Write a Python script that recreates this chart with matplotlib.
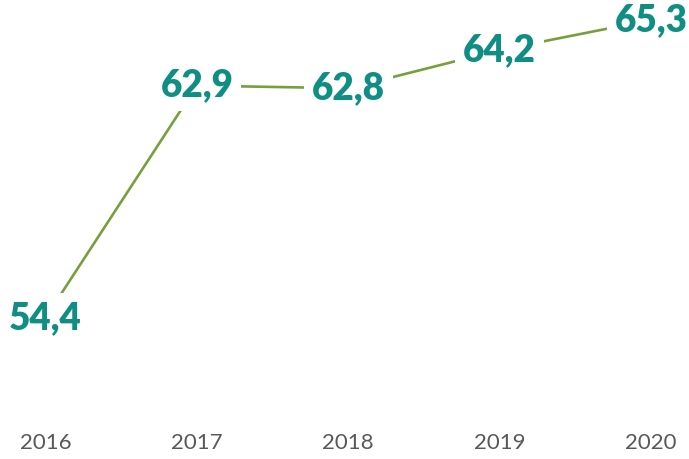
import matplotlib
matplotlib.use("Agg")
import matplotlib.pyplot as plt

years = ["2016", "2017", "2018", "2019", "2020"]
values = [54.4, 62.9, 62.8, 64.2, 65.3]
labels = ["54,4", "62,9", "62,8", "64,2", "65,3"]

line_color = "#77a03c"
label_color = "#0f8f83"

plt.rcParams["font.family"] = ["Lato", "DejaVu Sans"]

fig = plt.figure(figsize=(6.89, 4.59), dpi=100)
ax = fig.add_axes([0, 44 / 459, 1, 415 / 459])

x = list(range(len(years)))
ax.plot(x, values, color=line_color, linewidth=1.9, zorder=1)

for xi, v, lab in zip(x, values, labels):
    ax.text(xi, v, lab, ha="center", va="center", fontsize=26.5, fontweight="heavy",
            color=label_color, zorder=3,
            bbox=dict(boxstyle="square,pad=0.22", facecolor="white", edgecolor="none"))

ax.set_xlim(-0.30, 4.25)
ax.set_ylim(50.85, 66.03)
ax.set_xticks(x)
ax.set_xticklabels(years)
ax.tick_params(axis="x", length=0, pad=13, labelsize=16, labelcolor="#595959")
ax.set_yticks([])
for s in ax.spines.values():
    s.set_visible(False)

fig.savefig("out.png", dpi=100)
